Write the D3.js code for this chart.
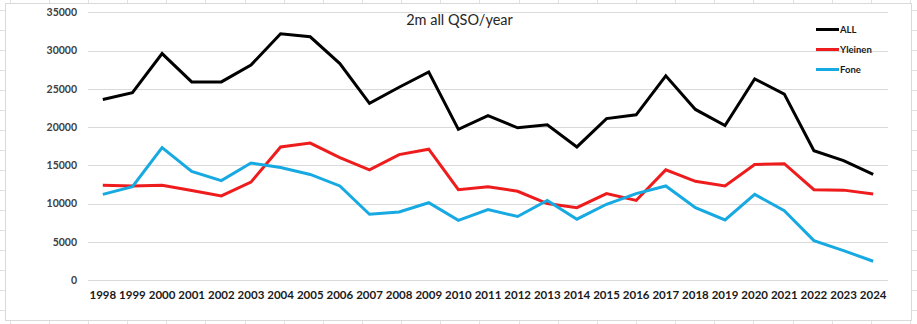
<!DOCTYPE html>
<html>
<head>
<meta charset="utf-8">
<script src="https://cdn.jsdelivr.net/npm/d3@7"></script>
<style>
  html, body { margin: 0; padding: 0; background: #fff; }
  svg { display: block; }
</style>
</head>
<body>
<svg id="chart" width="917" height="324"></svg>
<script>
const years = ["1998","1999","2000","2001","2002","2003","2004","2005","2006","2007","2008","2009","2010","2011","2012","2013","2014","2015","2016","2017","2018","2019","2020","2021","2022","2023","2024"];
const allQso = [23600,24500,29600,25900,25900,28100,32200,31800,28300,23100,25200,27200,19700,21500,19900,20300,17400,21100,21600,26700,22300,20200,26300,24300,16900,15600,13800];
const yleinen = [12400,12300,12400,11700,11000,12800,17400,17900,16000,14400,16400,17100,11800,12200,11600,10000,9450,11300,10400,14400,12900,12300,15100,15200,11800,11750,11250];
const fone = [11200,12200,17300,14200,13000,15300,14700,13800,12300,8600,8900,10100,7800,9200,8300,10400,7950,9900,11300,12300,9450,7850,11200,9050,5150,3850,2450];
const yTicks = [0,5000,10000,15000,20000,25000,30000,35000];
const seriesNames = ["ALL","Yleinen","Fone"];
const seriesColors = ["#000000","#ee1c1c","#17a9e1"];
const titleText = "2m all QSO/year";

(function () {
const svg = d3.select("#chart");
const W = 917, H = 324;

// Excel sheet grid around the chart
const sheet = svg.append("g");
const colStep = 39.14;
for (let gx0 = 88 - colStep * 3; gx0 < W; gx0 += colStep) {
  sheet.append("line").attr("x1", Math.round(gx0) + 0.5).attr("x2", Math.round(gx0) + 0.5)
    .attr("y1", 0).attr("y2", H).attr("stroke", "#e2e2e2");
}
for (let gy0 = 0; gy0 < H; gy0 += 20) {
  sheet.append("line").attr("x1", 0).attr("x2", W)
    .attr("y1", gy0 + 10.5).attr("y2", gy0 + 10.5).attr("stroke", "#e2e2e2");
}
// chart area
svg.append("rect").attr("x", 5.5).attr("y", 3.5).attr("width", 906).attr("height", 317)
  .attr("fill", "#fff").attr("stroke", "#d9d9d9");

const pl = 88, pr = 888, pt = 12.3, pb = 280;
const x = d3.scaleBand().domain(years).range([pl, pr]).paddingInner(0).paddingOuter(0);
const y = d3.scaleLinear().domain([0, 35000]).range([pb, pt]);

// gridlines
svg.append("g").selectAll("line").data(yTicks).join("line")
  .attr("x1", pl).attr("x2", pr)
  .attr("y1", d => Math.round(y(d)) + 0.5).attr("y2", d => Math.round(y(d)) + 0.5)
  .attr("stroke", "#d9d9d9").attr("stroke-width", 1);

// y axis labels
const yAxis = d3.axisLeft(y).tickValues(yTicks).tickSize(0).tickPadding(11).tickFormat(d3.format("d"));
const gy = svg.append("g").attr("transform", `translate(${pl},0)`).call(yAxis);
gy.select(".domain").remove();
gy.selectAll("text").attr("font-family", "Lato, 'Open Sans', sans-serif").attr("font-size", "10.5px")
  .attr("font-weight", "bold").attr("fill", "#404040");

// x axis labels
const xAxis = d3.axisBottom(x).tickSize(0).tickPadding(11);
const gx = svg.append("g").attr("transform", `translate(0,${pb})`).call(xAxis);
gx.select(".domain").remove();
gx.selectAll("text").attr("font-family", "Lato, 'Open Sans', sans-serif").attr("font-size", "11.5px")
  .attr("font-weight", "bold").attr("fill", "#1a1a1a");

// lines
const seriesData = [allQso, yleinen, fone];
const line = d3.line().x((d, i) => x(years[i]) + x.bandwidth() / 2).y(d => y(d)).curve(d3.curveLinear);
seriesData.forEach((s, k) => {
  svg.append("path").datum(s).attr("d", line).attr("fill", "none")
    .attr("stroke", seriesColors[k]).attr("stroke-width", 3).attr("stroke-linejoin", "miter");
});

// title
svg.append("text").attr("x", 459.5).attr("y", 25).attr("text-anchor", "middle")
  .attr("font-family", "Lato, 'Open Sans', sans-serif").attr("font-size", "14.5px")
  .attr("fill", "#262626").text(titleText);

// legend
const lg = svg.append("g");
seriesNames.forEach((n, k) => {
  const ly = 29.5 + k * 20;
  lg.append("line").attr("x1", 816).attr("x2", 839).attr("y1", ly).attr("y2", ly)
    .attr("stroke", seriesColors[k]).attr("stroke-width", 3);
  lg.append("text").attr("x", 840).attr("y", ly + 3.5).text(n)
    .attr("font-family", "Lato, 'Open Sans', sans-serif").attr("font-size", "9.5px")
    .attr("font-weight", "bold").attr("fill", "#1a1a1a");
});
})();
</script>
</body>
</html>
